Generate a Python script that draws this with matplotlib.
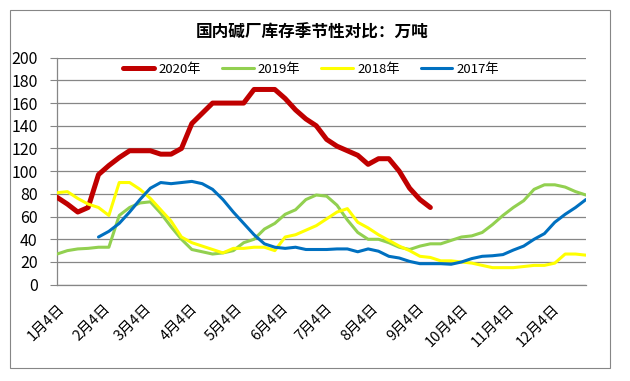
import numpy as np
import matplotlib
matplotlib.use("Agg")
import matplotlib.pyplot as plt
from matplotlib.patches import Rectangle

plt.rcParams['font.family'] = ['Noto Sans CJK SC', 'DejaVu Sans']

# weekly inventory, week 0 = Jan 4
y2020 = [77, 71, 64, 68, 97, 105, 112, 118, 118, 118, 115, 115, 120, 142, 151, 160,
         160, 160, 160, 172, 172, 172, 164, 154, 146, 140, 128, 122, 118, 114, 106, 111,
         111, 100, 85, 75, 68]
y2019 = [27, 30, 31.5, 32, 33, 33, 61, 68, 72, 73, 63, 51, 40, 31, 29, 27,
         28, 30, 37, 40, 49, 54, 62, 66, 75, 79, 78, 70, 57, 46, 40, 40,
         37, 33, 31, 34, 36, 36, 39, 42, 43, 46, 53, 61, 68, 74, 84, 88,
         88, 86, 82, 79]
y2018 = [81, 82, 76, 71, 68, 61, 90, 90, 84, 76, 66, 56, 42, 37, 34, 31,
         28, 32, 32, 33, 33, 30, 42, 44, 48, 52, 58, 64, 67, 55, 50, 44,
         39, 34, 30, 25, 24, 21, 21, 20, 19, 17, 15, 15, 15, 16, 17, 17,
         19, 27, 27, 26]
y2017 = [np.nan, np.nan, np.nan, np.nan, 42, 47, 54, 64, 75, 85, 90, 89, 90, 91, 89, 84,
         75, 64, 54, 44, 36, 33, 32, 33, 31, 31, 31, 31.5, 31.5, 29, 31.5, 29.5,
         25, 23.5, 20.5, 18.5, 18.5, 18.5, 18, 20, 23, 25, 25.5, 26.5, 30.5, 34,
         40, 45, 55, 62, 68, 75]

month_days = [0, 31, 59, 90, 120, 151, 181, 212, 243, 273, 304, 334]
month_labels = [f'{m}月4日' for m in range(1, 13)]

fig = plt.figure(figsize=(6.3, 3.81), dpi=100)
ax = fig.add_axes([0.0905, 0.2528, 0.8395, 0.5958])

# outer chart frame
fig.patches.append(Rectangle((10/630, 1-368/381), 600/630, 358/381, transform=fig.transFigure,
                             fill=False, edgecolor='#868686', linewidth=0.8))

series = [
    (y2020, '2020年', '#C00000', 3.6),
    (y2019, '2019年', '#92D050', 2.2),
    (y2018, '2018年', '#FFFF00', 2.2),
    (y2017, '2017年', '#0070C0', 2.2),
]
for vals, lab, col, lw in series:
    x = np.arange(len(vals)) * 7
    ax.plot(x, vals, color=col, linewidth=lw, label=lab, solid_joinstyle='round',
            solid_capstyle='round', zorder=3)

ax.set_xlim(0, 357)
ax.set_ylim(0, 200)
ax.set_yticks(range(0, 201, 20))
ax.set_xticks(month_days)
ax.set_xticklabels(month_labels, rotation=45, ha='right', rotation_mode='anchor', fontsize=10.5)
ax.tick_params(axis='y', labelsize=11.5, length=5, color='#868686', pad=9)
ax.tick_params(axis='x', length=0, pad=12)
ax.grid(axis='y', color='#868686', linewidth=0.9)
ax.set_axisbelow(True)
for s in ['top', 'right']:
    ax.spines[s].set_visible(False)
for s in ['left', 'bottom']:
    ax.spines[s].set_color('#868686')
    ax.spines[s].set_linewidth(0.9)

ax.legend(loc='upper center', bbox_to_anchor=(0.48, 1.03), ncol=4, frameon=False,
          fontsize=9.5, handlelength=2.4, handletextpad=0.3, columnspacing=1.6)

fig.text(0.495, 0.915, '国内碱厂库存季节性对比：万吨', ha='center', va='center',
         fontsize=12, fontweight='bold')

fig.savefig('out.png', dpi=100)
